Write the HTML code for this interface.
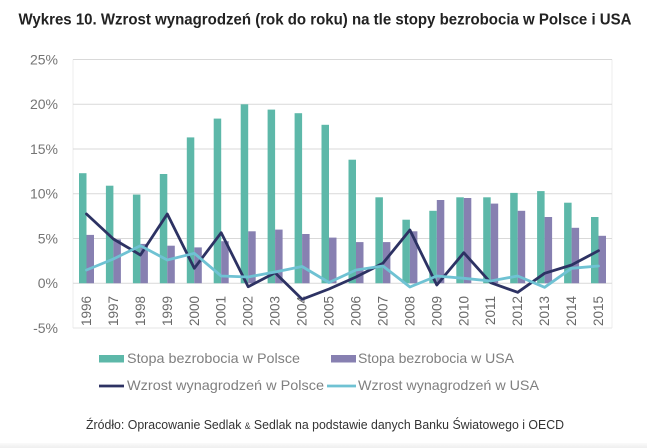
<!DOCTYPE html>
<html>
<head>
<meta charset="utf-8">
<style>
  html,body{margin:0;padding:0;background:#fff;}
  svg{display:block;}
  text{font-family:"Liberation Sans", sans-serif;}
</style>
</head>
<body>
<svg width="647" height="448" viewBox="0 0 647 448" xmlns="http://www.w3.org/2000/svg">
  <rect x="0" y="0" width="647" height="448" fill="#ffffff"/>
  <defs>
    <linearGradient id="bot" x1="0" y1="0" x2="0" y2="1">
      <stop offset="0" stop-color="#fafafa"/>
      <stop offset="1" stop-color="#efefef"/>
    </linearGradient>
  </defs>
  <rect x="0" y="443" width="647" height="5" fill="url(#bot)"/>

  <!-- Title -->
  <text x="18.5" y="24.5" font-size="16" font-weight="bold" fill="#222222" textLength="613" lengthAdjust="spacingAndGlyphs">Wykres 10. Wzrost wynagrodzeń (rok do roku) na tle stopy bezrobocia w Polsce i USA</text>

  <!-- Plot frame -->
  <line x1="73" y1="59.5" x2="73" y2="328" stroke="#ececec" stroke-width="1"/>
  <line x1="612" y1="59.5" x2="612" y2="328" stroke="#ececec" stroke-width="1"/>

  <!-- Gridlines -->
  <g stroke="#d9d9d9" stroke-width="1">
    <line x1="73" y1="59.5" x2="612" y2="59.5"/>
    <line x1="73" y1="104.25" x2="612" y2="104.25"/>
    <line x1="73" y1="149" x2="612" y2="149"/>
    <line x1="73" y1="193.75" x2="612" y2="193.75"/>
    <line x1="73" y1="238.5" x2="612" y2="238.5"/>
    <line x1="73" y1="283.25" x2="612" y2="283.25"/>
    <line x1="73" y1="328" x2="612" y2="328" stroke="#e6e6e6"/>
  </g>

  <!-- Y labels -->
  <g font-size="14" fill="#757575" text-anchor="end">
    <text x="58" y="64.5">25%</text>
    <text x="58" y="109.2">20%</text>
    <text x="58" y="154">15%</text>
    <text x="58" y="198.7">10%</text>
    <text x="58" y="243.5">5%</text>
    <text x="58" y="288.2">0%</text>
    <text x="58" y="333">-5%</text>
  </g>

  <!-- Teal bars: Stopa bezrobocia w Polsce -->
  <g fill="#5db8a9">
    <rect x="79" y="173.2" width="7.5" height="110.05"/>
    <rect x="105.9" y="185.7" width="7.5" height="97.55"/>
    <rect x="132.9" y="194.6" width="7.5" height="88.65"/>
    <rect x="159.8" y="174.0" width="7.5" height="109.25"/>
    <rect x="186.8" y="137.4" width="7.5" height="145.85"/>
    <rect x="213.7" y="118.6" width="7.5" height="164.65"/>
    <rect x="240.7" y="104.3" width="7.5" height="178.95"/>
    <rect x="267.6" y="109.6" width="7.5" height="173.65"/>
    <rect x="294.6" y="113.2" width="7.5" height="170.05"/>
    <rect x="321.5" y="124.8" width="7.5" height="158.45"/>
    <rect x="348.5" y="159.7" width="7.5" height="123.55"/>
    <rect x="375.4" y="197.3" width="7.5" height="85.95"/>
    <rect x="402.4" y="219.7" width="7.5" height="63.55"/>
    <rect x="429.3" y="210.8" width="7.5" height="72.45"/>
    <rect x="456.3" y="197.3" width="7.5" height="85.95"/>
    <rect x="483.2" y="197.3" width="7.5" height="85.95"/>
    <rect x="510.2" y="192.9" width="7.5" height="90.35"/>
    <rect x="537.1" y="191.1" width="7.5" height="92.15"/>
    <rect x="564.1" y="202.7" width="7.5" height="80.55"/>
    <rect x="591.0" y="217.0" width="7.5" height="66.25"/>
  </g>

  <!-- Purple bars: Stopa bezrobocia w USA -->
  <g fill="#8780b1">
    <rect x="86.5" y="234.9" width="7.5" height="48.35"/>
    <rect x="113.4" y="239.4" width="7.5" height="43.85"/>
    <rect x="140.4" y="243.9" width="7.5" height="39.35"/>
    <rect x="167.3" y="245.7" width="7.5" height="37.55"/>
    <rect x="194.3" y="247.4" width="7.5" height="35.85"/>
    <rect x="221.2" y="241.2" width="7.5" height="42.05"/>
    <rect x="248.2" y="231.3" width="7.5" height="51.95"/>
    <rect x="275.1" y="229.6" width="7.5" height="53.65"/>
    <rect x="302.1" y="234.0" width="7.5" height="49.25"/>
    <rect x="329.0" y="237.6" width="7.5" height="45.65"/>
    <rect x="356.0" y="242.1" width="7.5" height="41.15"/>
    <rect x="382.9" y="242.1" width="7.5" height="41.15"/>
    <rect x="409.9" y="231.3" width="7.5" height="51.95"/>
    <rect x="436.8" y="200.0" width="7.5" height="83.25"/>
    <rect x="463.8" y="198.0" width="7.5" height="85.25"/>
    <rect x="490.7" y="203.6" width="7.5" height="79.65"/>
    <rect x="517.7" y="210.8" width="7.5" height="72.45"/>
    <rect x="544.6" y="217.0" width="7.5" height="66.25"/>
    <rect x="571.6" y="227.8" width="7.5" height="55.45"/>
    <rect x="598.5" y="235.8" width="7.5" height="47.45"/>
  </g>

  <!-- X labels -->
  <g font-size="13.5" fill="#6a6a6a" text-anchor="end">
    <text x="91" y="296" transform="rotate(-90 91 296)">1996</text>
    <text x="117.9" y="296" transform="rotate(-90 117.9 296)">1997</text>
    <text x="144.9" y="296" transform="rotate(-90 144.9 296)">1998</text>
    <text x="171.8" y="296" transform="rotate(-90 171.8 296)">1999</text>
    <text x="198.8" y="296" transform="rotate(-90 198.8 296)">2000</text>
    <text x="225.7" y="296" transform="rotate(-90 225.7 296)">2001</text>
    <text x="252.7" y="296" transform="rotate(-90 252.7 296)">2002</text>
    <text x="279.6" y="296" transform="rotate(-90 279.6 296)">2003</text>
    <text x="306.6" y="296" transform="rotate(-90 306.6 296)">2004</text>
    <text x="333.5" y="296" transform="rotate(-90 333.5 296)">2005</text>
    <text x="360.5" y="296" transform="rotate(-90 360.5 296)">2006</text>
    <text x="387.4" y="296" transform="rotate(-90 387.4 296)">2007</text>
    <text x="414.4" y="296" transform="rotate(-90 414.4 296)">2008</text>
    <text x="441.3" y="296" transform="rotate(-90 441.3 296)">2009</text>
    <text x="468.3" y="296" transform="rotate(-90 468.3 296)">2010</text>
    <text x="495.2" y="296" transform="rotate(-90 495.2 296)">2011</text>
    <text x="522.2" y="296" transform="rotate(-90 522.2 296)">2012</text>
    <text x="549.1" y="296" transform="rotate(-90 549.1 296)">2013</text>
    <text x="576.1" y="296" transform="rotate(-90 576.1 296)">2014</text>
    <text x="603" y="296" transform="rotate(-90 603 296)">2015</text>
  </g>

  <!-- Navy line: Wzrost wynagrodzeń w Polsce -->
  <polyline fill="none" stroke="#2d3263" stroke-width="2.8" stroke-linejoin="round" stroke-linecap="round"
    points="86.5,214 113.4,239 140.4,255 167.3,214 194.3,268.3 221.2,232.7 248.2,286.7 275.1,272.7 302.1,299.3 329.0,289 356.0,277 382.9,263.3 409.9,230 436.8,285 463.8,252.7 490.7,282.7 517.7,292.3 544.6,273.3 571.6,265 598.5,250.7"/>

  <!-- Light blue line: Wzrost wynagrodzeń w USA -->
  <polyline fill="none" stroke="#6fc2d3" stroke-width="2.8" stroke-linejoin="round" stroke-linecap="round"
    points="86.5,270 113.4,259 140.4,245.7 167.3,260 194.3,253.3 221.2,276 248.2,277 275.1,272 302.1,266.5 329.0,282.5 356.0,270 382.9,266 409.9,287 436.8,276 463.8,278.3 490.7,281 517.7,276 544.6,287.3 571.6,268.3 598.5,266"/>

  <!-- Legend -->
  <rect x="99" y="355" width="25" height="7.5" fill="#5db8a9"/>
  <text x="127" y="363" font-size="14" fill="#7f7f7f" textLength="173" lengthAdjust="spacingAndGlyphs">Stopa bezrobocia w Polsce</text>
  <rect x="331" y="355" width="25" height="7.5" fill="#8780b1"/>
  <text x="358" y="363" font-size="14" fill="#7f7f7f" textLength="156" lengthAdjust="spacingAndGlyphs">Stopa bezrobocia w USA</text>

  <line x1="99" y1="386" x2="124" y2="386" stroke="#2d3263" stroke-width="2.8"/>
  <text x="127" y="390" font-size="14" fill="#7f7f7f" textLength="197" lengthAdjust="spacingAndGlyphs">Wzrost wynagrodzeń w Polsce</text>
  <line x1="327" y1="386" x2="356" y2="386" stroke="#6fc2d3" stroke-width="2.8"/>
  <text x="358" y="390" font-size="14" fill="#7f7f7f" textLength="181" lengthAdjust="spacingAndGlyphs">Wzrost wynagrodzeń w USA</text>

  <!-- Source -->
  <text x="86" y="429" font-size="13" fill="#333333" textLength="478" lengthAdjust="spacingAndGlyphs">Źródło: Opracowanie Sedlak <tspan font-size="9">&amp;</tspan> Sedlak na podstawie danych Banku Światowego i OECD</text>
</svg>
</body>
</html>
